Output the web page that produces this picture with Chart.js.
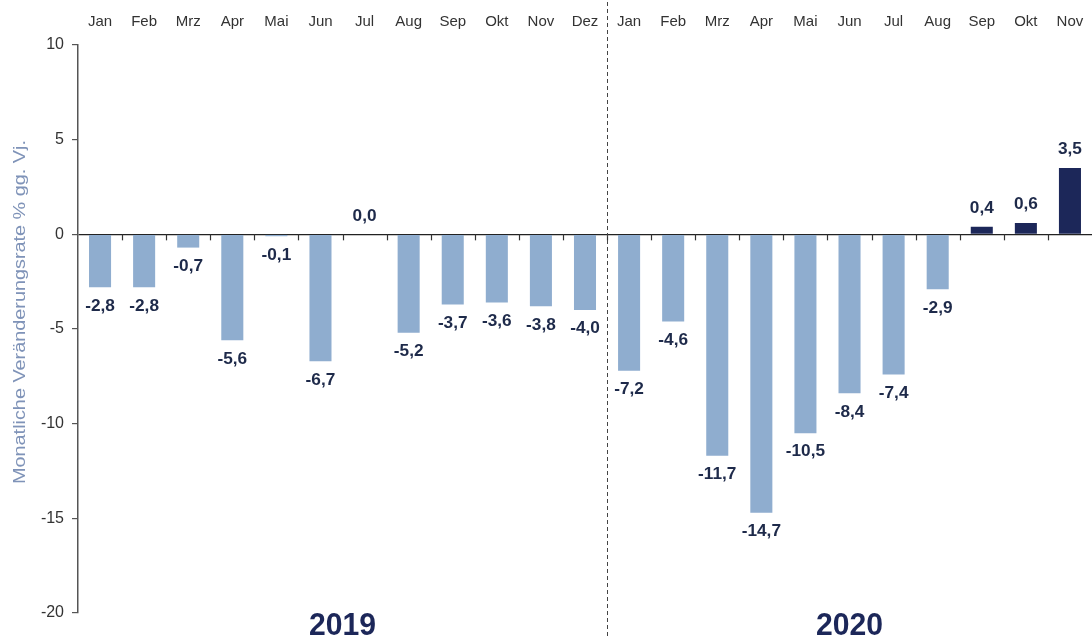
<!DOCTYPE html>
<html><head><meta charset="utf-8">
<script src="https://cdn.jsdelivr.net/npm/chart.js@4"></script>
<style>html,body{margin:0;padding:0;background:#fff}#wrap{width:1092px;height:639px;position:relative}</style>
</head><body><div id="wrap"><canvas id="c"></canvas></div>
<script>
const months = ["Jan","Feb","Mrz","Apr","Mai","Jun","Jul","Aug","Sep","Okt","Nov","Dez","Jan","Feb","Mrz","Apr","Mai","Jun","Jul","Aug","Sep","Okt","Nov"];
const values = [-2.8,-2.8,-0.7,-5.6,-0.1,-6.7,0.0,-5.2,-3.7,-3.6,-3.8,-4.0,-7.2,-4.6,-11.7,-14.7,-10.5,-8.4,-7.4,-2.9,0.4,0.6,3.5];
const years = ["2019","2020"];
const yearStartIdx = [0, 12];
const yearEndIdx = [11, 22];
const yTicks = [10,5,0,-5,-10,-15,-20];
const yTitle = "Monatliche Veränderungsrate % gg. Vj.";

const lightC = "#8FADCF", darkC = "#1C2759";
const barColors = values.map((v,i)=> (i>=20 ? darkC : lightC));
const FF = "'Liberation Sans', Arial, sans-serif";

const labelPlugin = {
  id:'lbl',
  afterDatasetsDraw(chart){
    const ctx = chart.ctx; const meta = chart.getDatasetMeta(0);
    const xs = chart.scales.x, ys = chart.scales.y;
    const y0 = ys.getPixelForValue(0);
    ctx.save();
    // small ticks on zero line between categories
    ctx.strokeStyle = "#333"; ctx.lineWidth = 1.2;
    for (let i=0;i<values.length-1;i++){
      const bx = Math.round((xs.getPixelForValue(i)+xs.getPixelForValue(i+1))/2)+0.5;
      ctx.beginPath(); ctx.moveTo(bx, y0); ctx.lineTo(bx, y0+6); ctx.stroke();
    }
    // value labels
    ctx.font = "bold 15px " + FF;
    ctx.fillStyle = "#1E2A4A"; ctx.textAlign='center'; ctx.textBaseline='middle';
    meta.data.forEach((el,i)=>{
      const v = values[i];
      const txt = v.toFixed(1).replace('.',',');
      const y = v < 0 ? el.y + 19 : el.y - 18;
      ctx.save(); ctx.translate(el.x, y); ctx.scale(1.15, 1.05);
      ctx.fillText(txt, 0, 0); ctx.restore();
    });
    // dashed separator
    const sx = Math.round((xs.getPixelForValue(11) + xs.getPixelForValue(12))/2)+0.5;
    ctx.strokeStyle = "#444"; ctx.lineWidth = 1; ctx.setLineDash([4,3]);
    ctx.beginPath(); ctx.moveTo(sx, 2); ctx.lineTo(sx, chart.height); ctx.stroke();
    ctx.setLineDash([]);
    // year labels
    ctx.font = "bold 29px " + FF;
    ctx.fillStyle = "#1C2759";
    years.forEach((y,k)=>{
      const cx = (xs.getPixelForValue(yearStartIdx[k]) + xs.getPixelForValue(yearEndIdx[k]))/2;
      ctx.save(); ctx.translate(cx, 626); ctx.scale(1.04, 1.08);
      ctx.fillText(y, 0, 0); ctx.restore();
    });
    // y axis title
    ctx.font = "16px " + FF;
    ctx.fillStyle = "#7F93B8";
    const w = ctx.measureText(yTitle).width;
    ctx.save(); ctx.translate(21, 312); ctx.rotate(-Math.PI/2); ctx.scale(344/w, 1);
    ctx.fillText(yTitle, 0, 0); ctx.restore();
    ctx.restore();
  }
};

new Chart(document.getElementById('c'), {
  type:'bar',
  data:{ labels: months, datasets:[{ data: values, backgroundColor: barColors, barPercentage:0.5, categoryPercentage:1.0 }]},
  options:{
    responsive:true, maintainAspectRatio:false, animation:false,
    layout:{ padding:{ top:0, right:0, bottom:26, left:0 } },
    plugins:{ legend:{display:false}, tooltip:{enabled:false} },
    scales:{
      x:{ position:'top',
          grid:{ display:true, drawOnChartArea:false, drawTicks:true, tickLength:14, tickColor:'rgba(0,0,0,0)', color:'rgba(0,0,0,0)' },
          border:{display:false},
          ticks:{ color:'#333', font:{size:15, family:FF}, padding:0, maxRotation:0, autoSkip:false },
          afterFit(s){ s.height = 45; } },
      y:{ min:-20, max:10, afterBuildTicks(s){ s.ticks = yTicks.map(v=>({value:v})); },
          grid:{ color: c => (c.tick && c.tick.value===0) ? '#222' : 'rgba(0,0,0,0)', lineWidth:1.2, tickColor:'#555', tickLength:6 },
          border:{ color:'#555', width:1.5 },
          ticks:{ color:'#333', font:{size:16, family:FF}, padding:8 },
          afterFit(s){ s.width = 78; } }
    }
  },
  plugins:[labelPlugin]
});
</script></body></html>
